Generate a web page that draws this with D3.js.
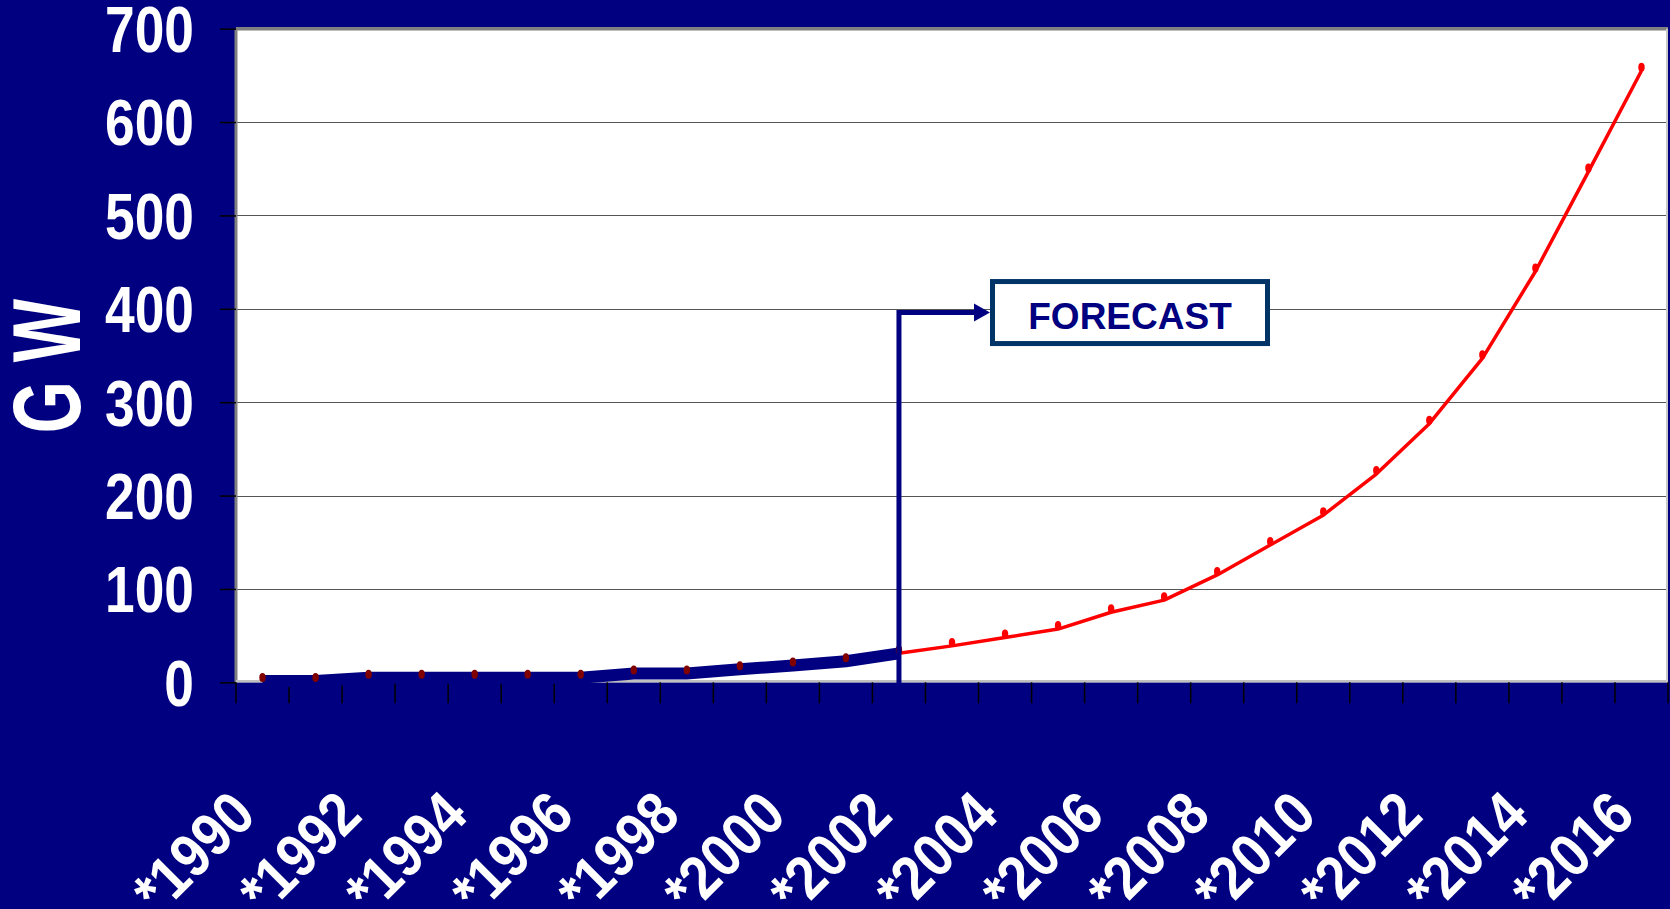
<!DOCTYPE html>
<html>
<head>
<meta charset="utf-8">
<script src="https://cdn.jsdelivr.net/npm/d3@7"></script>
<style>
  html, body { margin: 0; padding: 0; background: #000080; }
  svg { display: block; }
</style>
</head>
<body>
<svg id="chart" width="1670" height="909"></svg>
<script>
// Installed wind power capacity, GW (historical through 2002, forecast after)
const years = [1990, 1991, 1992, 1993, 1994, 1995, 1996, 1997, 1998, 1999, 2000, 2001, 2002,
               2003, 2004, 2005, 2006, 2007, 2008, 2009, 2010, 2011, 2012, 2013, 2014, 2015, 2016];
const capacity = [1.5, 1.5, 5, 5, 5, 5, 5, 9.5, 9.5, 14, 18, 22.5, 31,
                  39, 48, 57, 75, 88, 115, 147, 179, 223, 277, 347, 440, 547, 655];
const lastHistoricYear = 2002;
const yTicks = [0, 100, 200, 300, 400, 500, 600, 700];
const xTickYears = [1990, 1992, 1994, 1996, 1998, 2000, 2002, 2004, 2006, 2008, 2010, 2012, 2014, 2016];
const xTickLabels = ["*1990", "*1992", "*1994", "*1996", "*1998", "*2000", "*2002",
                     "*2004", "*2006", "*2008", "*2010", "*2012", "*2014", "*2016"];
const yTitle = "G W";
const forecastText = "FORECAST";
const forecastArrowValue = 396;

const NAVY = "#000080";
const SANS = "'Liberation Sans', Arial, Helvetica, sans-serif";
const svg = d3.select("#chart");

const plot = { left: 236, right: 1668, top: 28.7, bottom: 682.3 };

const x = d3.scaleBand().domain(years).range([plot.left, plot.right]).padding(0);
const cx = d => x(d) + x.bandwidth() / 2;
const y = d3.scaleLinear().domain([0, 700]).range([plot.bottom, plot.top]);

const series = years.map((yr, i) => ({ year: yr, value: capacity[i] }));
const historic = series.filter(d => d.year <= lastHistoricYear);
const forecast = series.filter(d => d.year >= lastHistoricYear);

// Plot area
svg.append("rect")
  .attr("x", plot.left).attr("y", plot.top)
  .attr("width", plot.right - plot.left).attr("height", plot.bottom - plot.top)
  .attr("fill", "#ffffff");

// Horizontal gridlines
svg.append("g").selectAll("line")
  .data(yTicks.filter(v => v > 0 && v < 700))
  .join("line")
  .attr("x1", plot.left).attr("x2", plot.right)
  .attr("y1", d => Math.round(y(d)) + 0.5).attr("y2", d => Math.round(y(d)) + 0.5)
  .attr("stroke", "#555555").attr("stroke-width", 1.2);

// Plot frame: dark edges top/left, light edges bottom/right
svg.append("line").attr("x1", plot.left).attr("x2", plot.right)
  .attr("y1", plot.top).attr("y2", plot.top).attr("stroke", "#808080").attr("stroke-width", 3.5);
svg.append("line").attr("x1", plot.left).attr("x2", plot.left)
  .attr("y1", plot.top).attr("y2", plot.bottom).attr("stroke", "#808080").attr("stroke-width", 3);
svg.append("line").attr("x1", plot.left).attr("x2", plot.right)
  .attr("y1", plot.bottom - 1).attr("y2", plot.bottom - 1).attr("stroke", "#c0c0c0").attr("stroke-width", 2.5);
svg.append("line").attr("x1", plot.right - 1).attr("x2", plot.right - 1)
  .attr("y1", plot.top).attr("y2", plot.bottom).attr("stroke", "#c8c8c8").attr("stroke-width", 2);

// Y axis tick marks
const yAxis = d3.axisLeft(y).tickValues(yTicks).tickSize(16).tickFormat("");
const gy = svg.append("g").attr("transform", `translate(${plot.left},0)`).call(yAxis);
gy.select(".domain").remove();
gy.selectAll(".tick line").attr("stroke", "#000000").attr("stroke-width", 1.5);

// Y tick labels in a condensed bold face
svg.append("g").selectAll("text")
  .data(yTicks)
  .join("text")
  .attr("transform", d => `translate(194,${y(d)}) scale(0.82,1)`)
  .attr("text-anchor", "end")
  .attr("dy", "0.36em")
  .attr("fill", "#ffffff")
  .attr("font-family", SANS)
  .attr("font-weight", "bold")
  .attr("font-size", 65)
  .text(d => d3.format("d")(d));

// Y title
svg.append("text")
  .attr("transform", `translate(80,366) rotate(-90) scale(0.7,1)`)
  .attr("text-anchor", "middle")
  .attr("fill", "#ffffff")
  .attr("font-family", SANS)
  .attr("font-weight", "bold")
  .attr("font-size", 96)
  .text(yTitle);

// X tick marks at category boundaries
const boundaries = years.map(d => x(d)).concat([plot.right]);
svg.append("g").selectAll("line")
  .data(boundaries)
  .join("line")
  .attr("x1", d => d).attr("x2", d => d)
  .attr("y1", plot.bottom).attr("y2", plot.bottom + 21)
  .attr("stroke", "#000000").attr("stroke-width", 1.5);

// X tick labels, rotated
svg.append("g").selectAll("text")
  .data(xTickYears)
  .join("text")
  .attr("transform", d => `translate(${cx(d) - 20},802) rotate(-45) scale(0.88,1)`)
  .attr("text-anchor", "end")
  .attr("dy", "0.36em")
  .attr("fill", "#ffffff")
  .attr("font-family", SANS)
  .attr("font-weight", "bold")
  .attr("font-size", 61)
  .text((d, i) => xTickLabels[i]);

const line = d3.line().x(d => cx(d.year)).y(d => y(d.value));

// Historic capacity: heavy navy line
svg.append("path")
  .datum(historic)
  .attr("d", line)
  .attr("fill", "none")
  .attr("stroke", NAVY)
  .attr("stroke-width", 12);

// Forecast capacity: red line
svg.append("path")
  .datum(forecast)
  .attr("d", line)
  .attr("fill", "none")
  .attr("stroke", "#ff0000")
  .attr("stroke-width", 3.5)
  .attr("stroke-linejoin", "round");

// Point markers
svg.append("g").selectAll("ellipse")
  .data(series)
  .join("ellipse")
  .attr("cx", d => cx(d.year))
  .attr("cy", d => y(d.value) - 3.5)
  .attr("rx", 3.2).attr("ry", 4.5)
  .attr("fill", d => d.year <= lastHistoricYear ? "#800000" : "#ff0000");

// Forecast callout: arrow from the last historic year to the label box
const ax = cx(lastHistoricYear);
const ay = y(forecastArrowValue);
const tipX = 990;
svg.append("path")
  .attr("d", `M${ax},${plot.bottom + 8} L${ax},${ay} L${tipX - 14},${ay}`)
  .attr("fill", "none")
  .attr("stroke", NAVY)
  .attr("stroke-width", 5)
  .attr("stroke-linejoin", "miter");
svg.append("path")
  .attr("d", `M${tipX},${ay} L${tipX - 16},${ay - 9} L${tipX - 16},${ay + 9} Z`)
  .attr("fill", NAVY);

const boxW = 275, boxH = 62;
svg.append("rect")
  .attr("x", tipX + 2.5).attr("y", ay - boxH / 2)
  .attr("width", boxW).attr("height", boxH)
  .attr("fill", "#ffffff")
  .attr("stroke", "#003366")
  .attr("stroke-width", 5);
svg.append("text")
  .attr("x", tipX + 2.5 + boxW / 2).attr("y", ay + 3)
  .attr("dy", "0.36em")
  .attr("text-anchor", "middle")
  .attr("fill", NAVY)
  .attr("font-family", SANS)
  .attr("font-weight", "bold")
  .attr("font-size", 37)
  .text(forecastText);
</script>
</body>
</html>
